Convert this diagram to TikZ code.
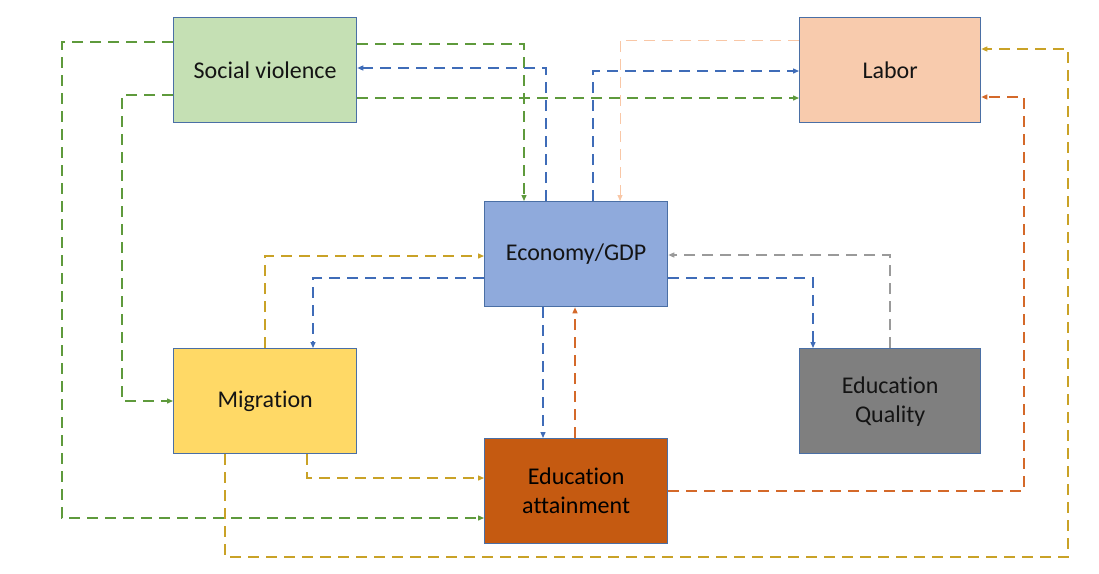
\documentclass[tikz,border=0pt]{standalone}
\usepackage{fontspec}
\setmainfont{Carlito}[Ligatures=NoCommon]
\usetikzlibrary{arrows.meta,calc}
\definecolor{bord}{HTML}{4A6FA5}
\definecolor{fsv}{HTML}{C5E0B4}
\definecolor{flab}{HTML}{F8CBAD}
\definecolor{fecon}{HTML}{8FAADC}
\definecolor{fmig}{HTML}{FFD966}
\definecolor{fatt}{HTML}{C55A11}
\definecolor{fqual}{HTML}{7F7F7F}
\definecolor{lgreen}{HTML}{5E9A3C}
\definecolor{lblue}{HTML}{3F6CB8}
\definecolor{lgold}{HTML}{C9A227}
\definecolor{lorange}{HTML}{D4692A}
\definecolor{lpeach}{HTML}{F9C7A6}
\definecolor{lgrey}{HTML}{9A9A9A}
\definecolor{txt}{HTML}{141414}
\begin{document}
\begin{tikzpicture}[x=1pt,y=-1pt,
  box/.style={draw=bord, line width=1.3pt, minimum width=183pt, minimum height=105pt,
    anchor=north west, inner sep=0pt, align=center, text=txt,
    font=\fontsize{24}{29}\selectfont},
  link/.style={line width=1.3pt, dash pattern=on 11pt off 7pt,
    -{Triangle[length=6pt,width=5pt]}}]
\useasboundingbox (0,0) rectangle (1099,573);
\node[box, fill=fsv] (sv) at (173,17) {Social violence};
\node[box, fill=flab, minimum width=181pt] (labor) at (799,17) {Labor};
\node[box, fill=fecon] (econ) at (484,201) {Economy/GDP};
\node[box, fill=fmig] (mig) at (173,348) {Migration};
\node[box, fill=fatt, text=black] (att) at (484,438) {Education\\attainment};
\node[box, fill=fqual, minimum width=181pt] (qual) at (799,348) {Education\\Quality};
\coordinate (gc) at (1068,557);
\coordinate (oc) at (1024,491);
% green
\draw[link, lgreen] ($(sv.north west)+(0,25)$) -- ++(-111,0) |- ($(att.north west)+(0,80)$);
\draw[link, lgreen] ($(sv.north west)+(0,78)$) -- ++(-51,0) |- ($(mig.north west)+(0,53)$);
\draw[link, lgreen] ($(sv.north east)+(0,27)$) -| ($(econ.north west)+(40,0)$);
\draw[link, lgreen] ($(sv.north east)+(0,81)$) -- ($(labor.north west)+(0,81)$);
% blue
\draw[link, lblue] ($(econ.north west)+(62,0)$) |- ($(sv.north east)+(0,51)$);
\draw[link, lblue] ($(econ.north west)+(109,0)$) |- ($(labor.north west)+(0,54)$);
\draw[link, lblue] ($(econ.north west)+(0,77)$) -| ($(mig.north west)+(140,0)$);
\draw[link, lblue] ($(econ.north east)+(0,77)$) -| ($(qual.north west)+(14,0)$);
\draw[link, lblue] ($(econ.south west)+(59,0)$) -- ($(att.north west)+(59,0)$);
% peach
\draw[link, lpeach, line width=1pt] ($(labor.north west)+(0,23)$) -| ($(econ.north west)+(136,0)$);
% gold
\draw[link, lgold] ($(mig.north west)+(92,0)$) |- ($(econ.north west)+(0,55)$);
\draw[link, lgold] ($(mig.south west)+(134,0)$) |- ($(att.north west)+(0,40)$);
\draw[link, lgold] ($(mig.south west)+(52,0)$) |- (gc) |- ($(labor.north east)+(0,32)$);
% orange
\draw[link, lorange] ($(att.north east)+(0,53)$) -- (oc) |- ($(labor.north east)+(0,80)$);
\draw[link, lorange] ($(att.north west)+(91,0)$) -- ($(econ.south west)+(91,0)$);
% grey
\draw[link, lgrey] ($(qual.north west)+(91,0)$) |- ($(econ.north east)+(0,54)$);
\end{tikzpicture}
\end{document}
